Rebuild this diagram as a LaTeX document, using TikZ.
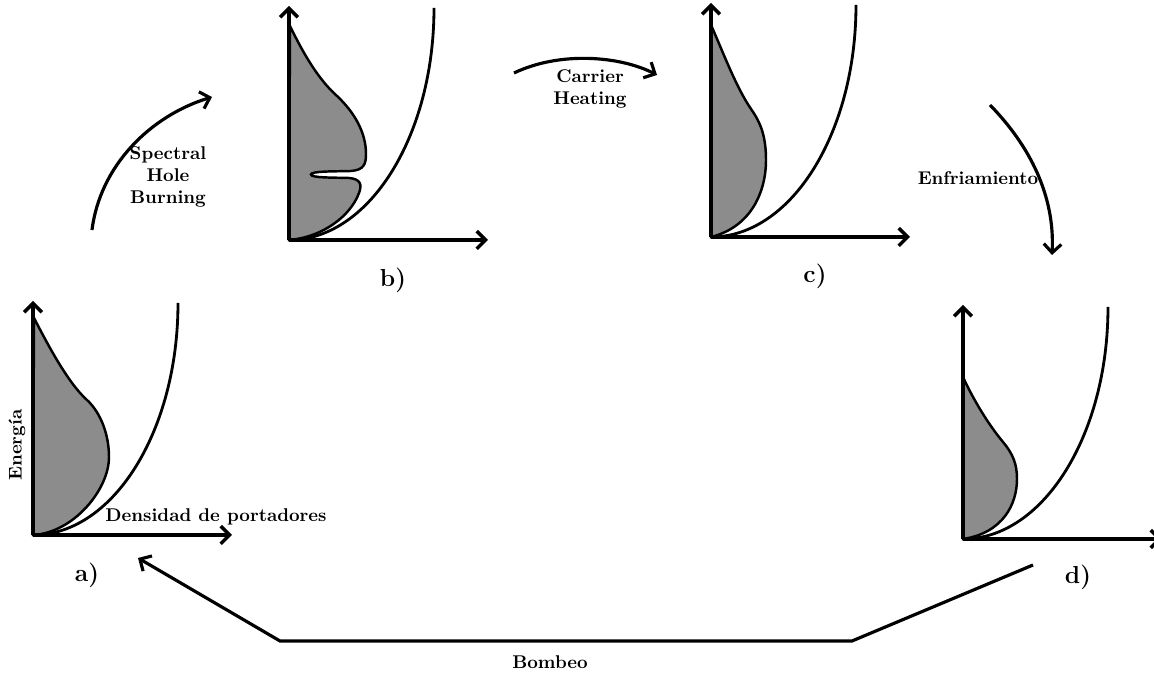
\documentclass[tikz,border=0pt]{standalone}
\usepackage{amsmath,amssymb}
\usepackage{xcolor}
\usepackage{tikz}
\usetikzlibrary{arrows.meta}

\begin{document}
\begin{tikzpicture}[x=0.02cm,y=0.02cm,
  axis/.style={line width=2pt,-{Straight Barb[length=5pt,width=10pt]}},
  band/.style={line width=1.6pt},
  occ/.style={line width=1.4pt,fill=black!45},
  flow/.style={line width=1.8pt,-{Straight Barb[length=5pt,width=10pt]}},
  lbl/.style={font=\fontsize{10.5}{12.6}\selectfont\bfseries,align=center},
  tag/.style={font=\fontsize{14}{17}\selectfont\bfseries}]
  \useasboundingbox (0,0) rectangle (1154,676);
  \coordinate (oa) at (33,141);
  \coordinate (ob) at (289,436);
  \coordinate (oc) at (711,439);
  \coordinate (od) at (963,137);
  % poblaciones
  \draw[occ,shift={(oa)}] (1,217) .. controls (15,190) and (35,152) .. (54,135)
    .. controls (68,122) and (76,100) .. (76,78) .. controls (76,45) and (40,2) .. (0,0) -- cycle;
  \draw[occ,shift={(ob)}] (1,214) .. controls (15,185) and (30,160) .. (48,144)
    .. controls (65,128) and (77,108) .. (77,86) .. controls (77,76) and (75,70) .. (62,69)
    .. controls (45,68.5) and (22,69) .. (22,65.5) .. controls (22,62) and (45,62.5) .. (60,62)
    .. controls (72,61) and (73,55) .. (70,47) .. controls (62,25) and (35,3) .. (0,0) -- cycle;
  \draw[occ,shift={(oc)}] (0,212) .. controls (12,185) and (25,150) .. (40,128)
    .. controls (50,114) and (55,100) .. (55,77) .. controls (55,45) and (40,10) .. (0,0) -- cycle;
  \draw[occ,shift={(od)}] (0,162) .. controls (10,140) and (25,115) .. (40,97)
    .. controls (50,85) and (54,75) .. (54,60) .. controls (54,35) and (40,6) .. (0,0) -- cycle;
  % ejes y banda
  \foreach \o in {oa,ob,oc,od} {
    \draw[band,shift={(\o)}] (0,0) arc[start angle=-90, end angle=0, x radius=145, y radius=232];
    \draw[axis,shift={(\o)}] (0,0) -- (0,234);
    \draw[axis,shift={(\o)}] (0,0) -- (199,0);
  }
  \node[lbl,rotate=90] (ener) at (17,231) {Energía};
  \node[lbl] (dens) at (216,159) {Densidad de portadores};
  \node[tag] (ta) at (87,101) {a)};
  \node[tag] (tb) at (393,396) {b)};
  \node[tag] (tc) at (815,400) {c)};
  \node[tag] (td) at (1078,99) {d)};
  % procesos
  \coordinate (shbA) at (92,446);
  \coordinate (shbB) at (212,579);
  \draw[flow] (shbA) .. controls (100,510) and (150,560) .. (shbB);
  \node[lbl] (shb) at (168,499) {Spectral\\Hole\\Burning};
  \coordinate (chA) at (514,603);
  \coordinate (chB) at (657,601);
  \draw[flow] (chA) .. controls (560,625) and (620,620) .. (chB);
  \node[lbl] (ch) at (590,587) {Carrier\\Heating};
  \coordinate (enfA) at (990,571);
  \coordinate (enfB) at (1052,421);
  \draw[flow] (enfA) .. controls (1030,530) and (1055,480) .. (enfB);
  \node[lbl] (enf) at (978,498) {Enfriamiento};
  \coordinate (bomA) at (1033,111);
  \coordinate (bomB) at (852,35);
  \coordinate (bomC) at (280,35);
  \coordinate (bomD) at (138,118);
  \draw[flow] (bomA) -- (bomB) -- (bomC) -- (bomD);
  \node[lbl] (bom) at (550,14) {Bombeo};
\end{tikzpicture}
\end{document}
